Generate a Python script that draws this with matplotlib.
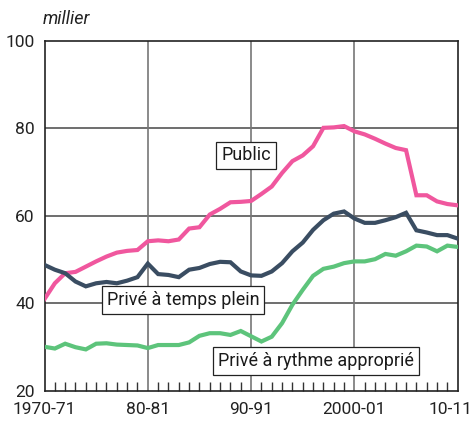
import matplotlib
matplotlib.use('Agg')
import matplotlib.pyplot as plt
import matplotlib.transforms as mtransforms
from matplotlib.ticker import FixedLocator

years = list(range(1970, 2011))
public = [41.0, 44.6, 46.9, 47.2, 48.4, 49.6, 50.7, 51.6, 52.0, 52.2,
          54.2, 54.4, 54.2, 54.6, 57.1, 57.4, 60.3, 61.6, 63.1, 63.2,
          63.4, 65.0, 66.7, 69.8, 72.5, 73.8, 75.9, 80.1, 80.2, 80.5,
          79.3, 78.6, 77.6, 76.5, 75.5, 75.0, 64.7, 64.7, 63.3, 62.7, 62.4]
prive_plein = [48.8, 47.7, 46.9, 45.0, 43.9, 44.6, 44.9, 44.6, 45.2, 46.0,
               49.1, 46.7, 46.5, 46.0, 47.7, 48.1, 49.0, 49.5, 49.4, 47.3,
               46.4, 46.3, 47.3, 49.2, 51.9, 53.9, 56.8, 59.0, 60.5, 61.0,
               59.4, 58.4, 58.4, 59.0, 59.7, 60.7, 56.7, 56.2, 55.6, 55.6, 54.8]
prive_rythme = [30.1, 29.7, 30.8, 30.0, 29.5, 30.8, 30.9, 30.6, 30.5, 30.4,
                29.8, 30.5, 30.5, 30.5, 31.1, 32.6, 33.2, 33.2, 32.8, 33.7,
                32.5, 31.3, 32.4, 35.5, 39.7, 43.1, 46.3, 47.9, 48.4, 49.2,
                49.6, 49.6, 50.1, 51.3, 50.9, 51.9, 53.2, 53.0, 51.9, 53.2, 52.9]

tick_years = [1970, 1980, 1990, 2000, 2010]
tick_labels = ["1970-71", "80-81", "90-91", "2000-01", "10-11"]
y_ticks = [20, 40, 60, 80, 100]

series_labels = ["Public", "Privé à temps plein", "Privé à rythme approprié"]
label_pos = [(1989.5, 73.8), (1983.4, 40.8), (1996.3, 26.9)]

plt.rcParams['font.family'] = ['Roboto', 'DejaVu Sans']

fig = plt.figure(figsize=(4.76, 4.21), dpi=100)
ax = fig.add_axes([44.5/476, 1-391/421, (457.7-44.5)/476, (391-40.7)/421])

ax.set_xlim(1970, 2010)
ax.set_ylim(20, 100)

for yv in [40, 60, 80]:
    ax.axhline(yv, color='#555555', lw=1.2, zorder=1)
for xv in [1980, 1990, 2000]:
    ax.axvline(xv, color='#777777', lw=1.2, zorder=1)

colors = ['#F0579E', '#3A4D62', '#5DC47B']
for vals, c in zip([public, prive_plein, prive_rythme], colors):
    ax.plot(years, vals, color=c, lw=3.0, solid_joinstyle='miter', zorder=3)

for (lx, ly), txt in zip(label_pos, series_labels):
    ax.text(lx, ly, txt, ha='center', va='center', fontsize=13, color='#1a1a1a',
            zorder=5,
            bbox=dict(boxstyle='square,pad=0.27', fc='white', ec='#222222', lw=0.9))

ax.set_xticks(tick_years)
ax.set_xticklabels(tick_labels)
ax.xaxis.set_minor_locator(FixedLocator(years[1:-1]))
ax.tick_params(axis='x', which='major', length=0, pad=8, labelsize=12.5, colors='#222222')
ax.tick_params(axis='x', which='minor', direction='in', length=6.5, width=1.0, color='#333333')
ax.set_yticks(y_ticks)
ax.tick_params(axis='y', length=0, pad=7, labelsize=12.5, colors='#222222')

last = ax.get_xticklabels()[-1]
last.set_horizontalalignment('right')
last.set_transform(last.get_transform() + mtransforms.ScaledTranslation(0.15, 0, fig.dpi_scale_trans))

for s in ax.spines.values():
    s.set_color('#222222')
    s.set_linewidth(1.2)

fig.text(43/476, 1-19/421, "millier", ha='left', va='center', fontsize=13,
         style='italic', color='#222222')

fig.savefig('out.png', dpi=100)
